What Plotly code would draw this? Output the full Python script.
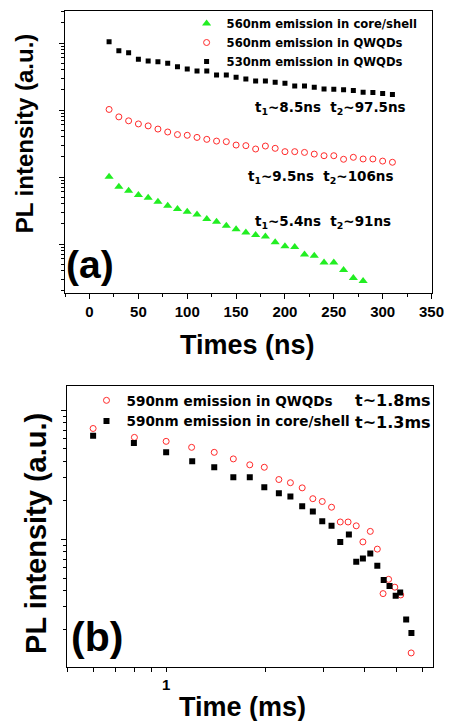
import plotly.graph_objects as go

# ---------------- Data: panel (a) ----------------
a_t_530q = [20, 30, 40, 50, 60, 70, 80, 90, 100, 110, 120, 130, 140, 150, 160,
            170, 180, 190, 200, 210, 220, 230, 240, 250, 260, 270, 280, 290, 300, 310]
a_I_530q = [1047, 767, 716, 571, 537, 525, 498, 444, 409, 382, 382, 333, 333, 308, 290,
            271, 271, 259, 250, 228, 228, 218, 206, 204, 200, 195, 184, 182, 177, 171]

a_t_560q = [20, 30, 40, 50, 60, 70, 80, 90, 100, 110, 120, 130, 140, 150, 160,
            170, 180, 190, 200, 210, 220, 230, 240, 250, 260, 270, 280, 290, 300, 310]
a_I_560q = [102, 79, 69, 62, 58, 52, 47, 43, 42, 39, 36.5, 34.4, 33.7, 30, 29.4,
            26.2, 29, 26.8, 23.9, 23.9, 23.3, 22, 20.8, 20.8, 18.4, 19.7, 18.6, 18.6, 17.3, 16.6]

a_t_560c = [20, 30, 40, 50, 60, 70, 80, 90, 100, 110, 120, 130, 140, 150,
            160, 170, 180, 190, 200, 210, 220, 230, 240, 250, 260, 270, 280]
a_I_560c = [10.1, 7.16, 6.25, 5.38, 4.91, 4.28, 3.73, 3.33, 3.03, 2.77, 2.36, 2.15, 1.87, 1.66,
            1.49, 1.36, 1.29, 1.06, 0.93, 0.90, 0.70, 0.67, 0.53, 0.53, 0.41, 0.31, 0.28]

a_names = ["560nm emission in core/shell", "560nm emission in QWQDs", "530nm emission in QWQDs"]
a_xticks = [0, 50, 100, 150, 200, 250, 300, 350]
a_notes = ["t<sub>1</sub>~8.5ns  t<sub>2</sub>~97.5ns",
           "t<sub>1</sub>~9.5ns  t<sub>2</sub>~106ns",
           "t<sub>1</sub>~5.4ns  t<sub>2</sub>~91ns"]

# ---------------- Data: panel (b) ----------------
b_t_q = [0.600, 0.801, 1.0, 1.195, 1.40, 1.60, 1.795, 1.987, 2.20, 2.385, 2.59, 2.79, 2.98,
         3.18, 3.38, 3.57, 3.78, 3.96, 4.17, 4.38, 4.56, 4.74, 4.95, 5.16, 5.55]
b_I_q = [7.21, 6.15, 5.73, 5.15, 4.71, 4.19, 3.77, 3.61, 2.90, 2.74, 2.50, 2.06, 1.96,
         1.77, 1.36, 1.36, 1.27, 0.953, 1.15, 0.838, 0.379, 0.489, 0.425, 0.370, 0.1315]

b_t_c = [0.600, 0.798, 1.0, 1.20, 1.40, 1.60, 1.795, 1.987, 2.20, 2.385, 2.59, 2.79, 2.98,
         3.18, 3.38, 3.59, 3.78, 3.96, 4.17, 4.38, 4.58, 4.77, 4.98, 5.14, 5.36, 5.56]
b_I_c = [6.34, 5.57, 4.71, 4.02, 3.61, 3.02, 3.02, 2.53, 2.27, 2.14, 1.80, 1.64, 1.38,
         1.27, 0.953, 1.09, 0.668, 0.710, 0.776, 0.622, 0.483, 0.434, 0.364, 0.386, 0.239, 0.1875]

b_names = ["590nm emission in QWQDs", "590nm emission in core/shell"]
b_xticks = [0.5, 0.6, 0.7, 0.8, 0.9, 1, 2, 3, 4, 5, 6]
b_xticklabels = ["", "", "", "", "", "1", "", "", "", "", ""]
b_notes = ["t~1.8ms", "t~1.3ms"]

# ---------------- Figure ----------------
W, H = 462, 721
GREEN = "#22ee22"
RED = "#ff2a2a"
FONT = "Liberation Sans, Arial, sans-serif"
WIDE = "DejaVu Sans, sans-serif"


def px(x):
    return x / W


def py(y):
    return 1 - y / H


fig = go.Figure()

fig.add_trace(go.Scatter(x=a_t_560c, y=a_I_560c, mode="markers", name=a_names[0],
                         marker=dict(symbol="triangle-up", size=8, color=GREEN),
                         xaxis="x", yaxis="y", legend="legend"))
fig.add_trace(go.Scatter(x=a_t_560q, y=a_I_560q, mode="markers", name=a_names[1],
                         marker=dict(symbol="circle-open", size=6, color=RED, line=dict(width=1)),
                         xaxis="x", yaxis="y", legend="legend"))
fig.add_trace(go.Scatter(x=a_t_530q, y=a_I_530q, mode="markers", name=a_names[2],
                         marker=dict(symbol="square", size=5, color="black"),
                         xaxis="x", yaxis="y", legend="legend"))

fig.add_trace(go.Scatter(x=b_t_q, y=b_I_q, mode="markers", name=b_names[0],
                         marker=dict(symbol="circle-open", size=6, color=RED, line=dict(width=1)),
                         xaxis="x2", yaxis="y2", legend="legend2"))
fig.add_trace(go.Scatter(x=b_t_c, y=b_I_c, mode="markers", name=b_names[1],
                         marker=dict(symbol="square", size=6, color="black"),
                         xaxis="x2", yaxis="y2", legend="legend2"))

axis_common = dict(showline=True, linecolor="black", linewidth=1, mirror=True,
                   showgrid=False, zeroline=False, ticks="outside", tickcolor="black")

fig.update_layout(
    width=W, height=H,
    margin=dict(l=0, r=0, t=0, b=0),
    paper_bgcolor="white", plot_bgcolor="white",
    font=dict(family=FONT, color="black"),
    xaxis=dict(domain=[px(67), px(444)], range=[-25, 350], tickvals=a_xticks,
               ticklen=5, tickfont=dict(size=15, weight="bold"),
               minor=dict(dtick=25, tick0=0, ticks="outside", ticklen=3, tickcolor="black"),
               anchor="y", **axis_common),
    yaxis=dict(domain=[py(293), py(11)], type="log", range=[-0.731, 3.478], dtick=1,
               ticklen=5, showticklabels=False,
               minor=dict(ticks="outside", ticklen=3, tickcolor="black"),
               anchor="x", **axis_common),
    xaxis2=dict(domain=[px(69), px(446)], type="log", range=[-0.301, 0.812],
                tickvals=b_xticks, ticktext=b_xticklabels, ticklen=4,
                tickfont=dict(size=15, weight="bold"), anchor="y2", **axis_common),
    yaxis2=dict(domain=[py(667), py(386)], type="log", range=[-0.99, 1.187], dtick=1,
                ticklen=5, showticklabels=False,
                minor=dict(ticks="outside", ticklen=3, tickcolor="black"),
                anchor="x2", **axis_common),
    legend=dict(x=px(192), y=py(9), xanchor="left", yanchor="top",
                bgcolor="rgba(0,0,0,0)", borderwidth=0, tracegroupgap=0,
                font=dict(family=WIDE, size=11.6, weight="bold")),
    legend2=dict(x=px(89), y=py(385), xanchor="left", yanchor="top",
                 bgcolor="rgba(0,0,0,0)", borderwidth=0,
                 font=dict(family=WIDE, size=13.6, weight="bold")),
)

ann = []
# axis titles
ann.append(dict(text="PL intensity (a.u.)", x=px(25), y=py(133), textangle=-90,
                font=dict(size=24, weight="bold")))
ann.append(dict(text="Times (ns)", x=px(255), y=py(345), font=dict(size=27, weight="bold")))
ann.append(dict(text="PL intensity (a.u.)", x=px(37), y=py(533), textangle=-90,
                font=dict(size=29, weight="bold")))
ann.append(dict(text="Time (ms)", x=px(250), y=py(707), font=dict(size=27, weight="bold")))
# panel labels
ann.append(dict(text="(a)", x=px(93), y=py(264), font=dict(size=39, weight="bold")))
ann.append(dict(text="(b)", x=px(100), y=py(637), font=dict(size=41, weight="bold")))
# lifetimes panel (a)
for note, (cx, cy) in zip(a_notes, [(340, 108), (330, 177), (332, 222)]):
    ann.append(dict(text=note, x=px(cx), y=py(cy), font=dict(family=WIDE, size=13.5, weight="bold")))
# lifetimes panel (b)
for note, (cx, cy) in zip(b_notes, [(404, 400), (404, 422)]):
    ann.append(dict(text=note, x=px(cx), y=py(cy), font=dict(family=WIDE, size=16, weight="bold")))

for a in ann:
    a.update(xref="paper", yref="paper", showarrow=False, xanchor="center", yanchor="middle")
    a["font"].setdefault("family", FONT)
    a["font"]["color"] = "black"

fig.update_layout(annotations=ann)
fig.write_html("out.html", config={"displayModeBar": False},
               post_script="document.body.style.margin='0';document.body.style.overflow='hidden';")
